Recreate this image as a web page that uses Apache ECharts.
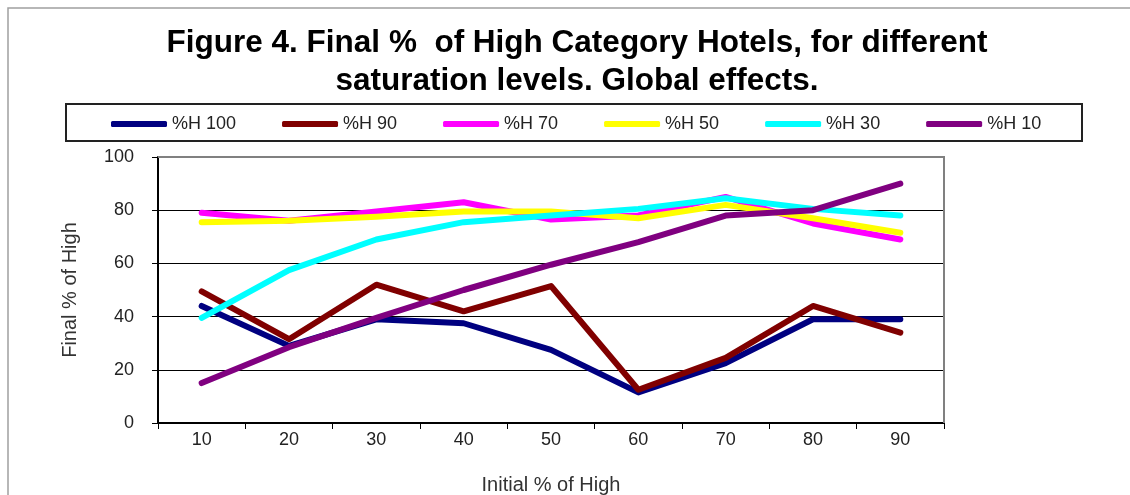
<!DOCTYPE html>
<html>
<head>
<meta charset="utf-8">
<script src="https://cdn.jsdelivr.net/npm/echarts@6/dist/echarts.min.js"></script>
<style>
  html, body { margin: 0; padding: 0; background: #fff; }
  #chart { width: 1130px; height: 495px; }
</style>
</head>
<body>
<div id="chart"></div>
<script>
const categories = ['10', '20', '30', '40', '50', '60', '70', '80', '90'];
const seriesNames = ['%H 100', '%H 90', '%H 70', '%H 50', '%H 30', '%H 10'];
const h100 = [44, 29, 39, 37.5, 27.5, 11.5, 22.5, 39, 39];
const h90  = [49.5, 31.5, 52, 42, 51.5, 12.5, 24.5, 44, 34];
const h70  = [79, 76, 79.5, 83, 76.5, 78, 85, 75, 69];
const h50  = [75.5, 76, 77.5, 79.5, 79.5, 77, 82, 77, 71.5];
const h30  = [39.5, 57.5, 69, 75.5, 78, 80.5, 84.5, 80.5, 78];
const h10  = [15, 28.5, 39.5, 50, 59.5, 68, 78, 80, 90];
const yTicks = [0, 20, 40, 60, 80, 100];
const colors = ['#000080', '#800000', '#FF00FF', '#FFFF00', '#00FFFF', '#800080'];
const values = [h100, h90, h70, h50, h30, h10];

const FONT = '"Liberation Sans", Arial, sans-serif';
const chart = echarts.init(document.getElementById('chart'), null, { renderer: 'canvas' });

chart.setOption({
  animation: false,
  backgroundColor: '#ffffff',
  color: colors,
  title: {
    text: 'Figure 4. Final %  of High Category Hotels, for different\nsaturation levels. Global effects.',
    left: 577,
    textAlign: 'center',
    top: 24,
    padding: 0,
    textStyle: { fontFamily: FONT, fontWeight: 'bold', fontSize: 31.5, lineHeight: 38, color: '#000' }
  },
  legend: {
    data: seriesNames,
    left: 111,
    top: 115,
    padding: 0,
    icon: 'roundRect',
    itemWidth: 56,
    itemHeight: 6,
    itemGap: 46,
    textStyle: { fontFamily: FONT, fontSize: 18, color: '#222' }
  },
  grid: { left: 158, right: 186, top: 157, bottom: 72, containLabel: false, outerBoundsMode: 'none' },
  xAxis: {
    type: 'category',
    data: categories,
    boundaryGap: true,
    name: 'Initial % of High',
    nameLocation: 'middle',
    nameGap: 52,
    nameTextStyle: { fontFamily: FONT, fontSize: 20, color: '#333' },
    axisLine: { lineStyle: { color: '#000', width: 2 } },
    axisTick: { show: true, inside: false, length: 6, lineStyle: { color: '#000', width: 1 } },
    axisLabel: { fontFamily: FONT, fontSize: 18, color: '#222', margin: 8 },
    splitLine: { show: false }
  },
  yAxis: {
    type: 'value',
    min: 0,
    max: 100,
    interval: 20,
    name: 'Final % of High',
    nameLocation: 'middle',
    nameGap: 78,
    nameRotate: 90,
    nameTextStyle: { fontFamily: FONT, fontSize: 20, color: '#333' },
    axisLine: { show: true, lineStyle: { color: '#000', width: 2 } },
    axisTick: { show: true, inside: false, length: 6, lineStyle: { color: '#000', width: 1 } },
    axisLabel: {
      fontFamily: FONT, fontSize: 18, color: '#222', margin: 24,
      formatter: function (v) { return yTicks.indexOf(v) >= 0 ? String(v) : ''; }
    },
    splitLine: { show: true, lineStyle: { color: '#000', width: 1 } }
  },
  graphic: [
    { type: 'rect', z: -1, silent: true,
      shape: { x: 8, y: 8, width: 1140, height: 500 },
      style: { fill: 'none', stroke: '#a0a0a0', lineWidth: 1.5 } },
    { type: 'rect', z: -1, silent: true,
      shape: { x: 66, y: 104, width: 1016, height: 37 },
      style: { fill: 'none', stroke: '#222', lineWidth: 2 } },
    { type: 'polyline', z: 1, silent: true,
      shape: { points: [[158, 157], [944, 157], [944, 423]] },
      style: { fill: 'none', stroke: '#808080', lineWidth: 2 } }
  ],
  series: seriesNames.map(function (name, i) {
    return {
      name: name,
      type: 'line',
      data: values[i],
      showSymbol: false,
      symbol: 'none',
      lineStyle: { width: 6, color: colors[i], cap: 'round', join: 'round' },
      itemStyle: { color: colors[i] },
      z: 3 + i
    };
  })
});
</script>
</body>
</html>
